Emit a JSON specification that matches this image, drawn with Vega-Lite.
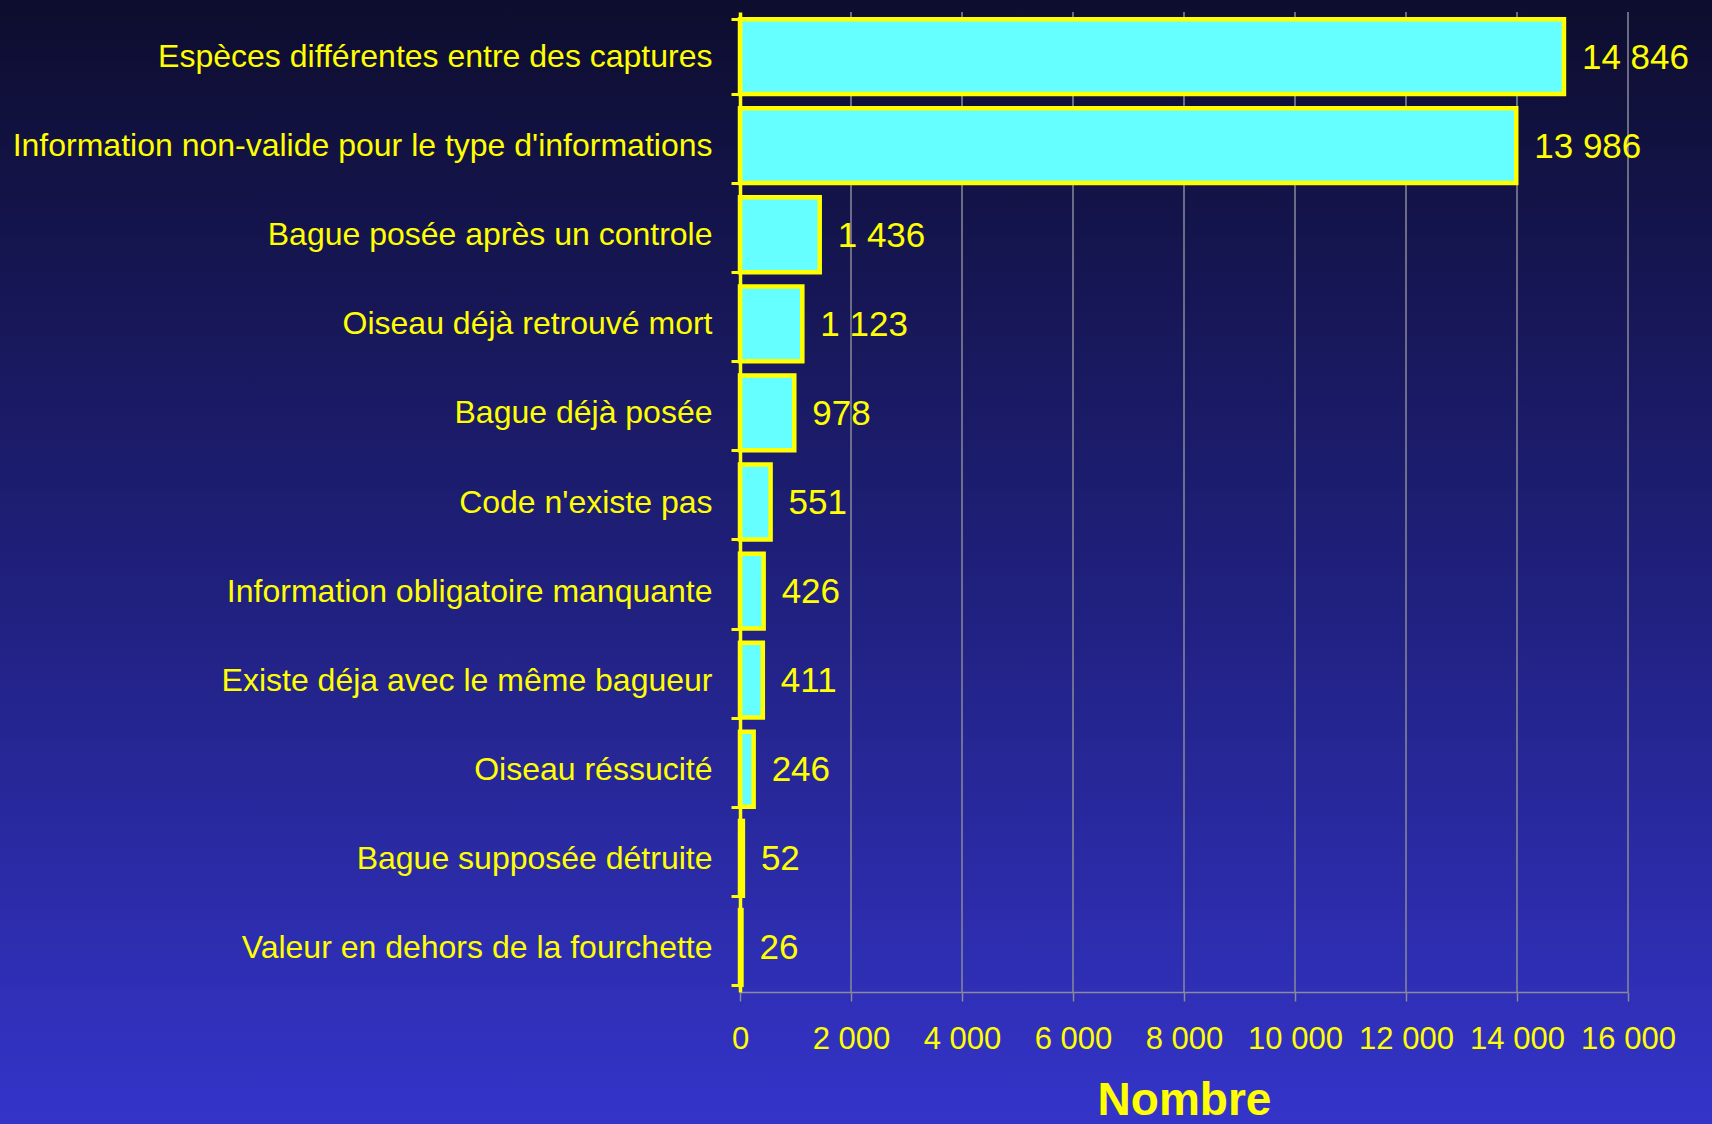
{
  "$schema": "https://vega.github.io/schema/vega-lite/v6.json",
  "width": 888,
  "height": 980,
  "autosize": "none",
  "padding": {"left": 740, "top": 12, "right": 84, "bottom": 132},
  "background": "#1f1f78",
  "config": {
    "view": {"stroke": null},
    "locale": {"number": {"decimal": ",", "thousands": " ", "grouping": [3], "currency": ["", " €"]}},
    "font": "Liberation Sans"
  },
  "datasets": {
    "errors": [
      {"type": "Espèces différentes entre des captures", "n": 14846},
      {"type": "Information non-valide pour le type d'informations", "n": 13986},
      {"type": "Bague posée après un controle", "n": 1436},
      {"type": "Oiseau déjà retrouvé mort", "n": 1123},
      {"type": "Bague déjà posée", "n": 978},
      {"type": "Code n'existe pas", "n": 551},
      {"type": "Information obligatoire manquante", "n": 426},
      {"type": "Existe déja avec le même bagueur", "n": 411},
      {"type": "Oiseau réssucité", "n": 246},
      {"type": "Bague supposée détruite", "n": 52},
      {"type": "Valeur en dehors de la fourchette", "n": 26}
    ],
    "grid": [
      {"g": 2000}, {"g": 4000}, {"g": 6000}, {"g": 8000},
      {"g": 10000}, {"g": 12000}, {"g": 14000}, {"g": 16000}
    ]
  },
  "layer": [
    {
      "data": {"values": [{}]},
      "mark": {
        "type": "rect",
        "fill": {
          "gradient": "linear", "x1": 0, "y1": 0, "x2": 0, "y2": 1,
          "stops": [
            {"offset": 0, "color": "#0d0d2e"},
            {"offset": 0.5, "color": "#1f1f7a"},
            {"offset": 1, "color": "#3434ca"}
          ]
        }
      },
      "encoding": {
        "x": {"datum": -13400, "type": "quantitative", "scale": {"domain": [0, 16000], "nice": false, "zero": false}},
        "x2": {"datum": 17600},
        "y": {"datum": 1.013, "type": "quantitative", "scale": {"domain": [0, 1], "nice": false, "zero": false}, "axis": null},
        "y2": {"datum": -0.136}
      }
    },
    {
      "data": {"name": "grid"},
      "mark": {"type": "rule", "color": "#8a8a9a", "strokeWidth": 1.5},
      "encoding": {
        "x": {"field": "g", "type": "quantitative"}
      }
    },
    {
      "data": {"name": "errors"},
      "layer": [
        {
          "mark": {"type": "bar", "fill": "#66ffff", "stroke": "#ffff00", "strokeWidth": 4.5},
          "encoding": {
            "y": {
              "field": "type", "type": "nominal", "sort": null,
              "scale": {"paddingInner": 0.16, "paddingOuter": 0.08},
              "axis": {
                "title": null, "zindex": 1,
                "domainColor": "#ffff00", "domainWidth": 3.5,
                "tickColor": "#ffff00", "tickWidth": 3, "tickSize": 9, "tickBand": "extent",
                "labelFontSize": 32, "labelColor": "#ffff00", "labelPadding": 19, "labelLimit": 0
              }
            },
            "x": {
              "field": "n", "type": "quantitative",
              "scale": {"domain": [0, 16000], "nice": false},
              "axis": {
                "zindex": 1, "grid": false,
                "values": [0, 2000, 4000, 6000, 8000, 10000, 12000, 14000, 16000],
                "format": ",d",
                "labelFontSize": 31, "labelColor": "#ffff00", "labelPadding": 23,
                "labelFlush": false, "labelOverlap": false,
                "tickColor": "#8a8a9a", "tickSize": 9, "tickWidth": 1.5,
                "domainColor": "#8a8a9a", "domainWidth": 1.5,
                "title": "Nombre", "titleFontSize": 46, "titleFontWeight": "bold",
                "titleColor": "#ffff00", "titlePadding": 24
              }
            }
          }
        },
        {
          "mark": {"type": "text", "align": "left", "baseline": "middle", "dx": 18, "dy": 1, "fontSize": 35, "color": "#ffff00"},
          "encoding": {
            "y": {"field": "type", "type": "nominal", "sort": null},
            "x": {"field": "n", "type": "quantitative"},
            "text": {"field": "n", "type": "quantitative", "format": ",d"}
          }
        }
      ]
    }
  ],
  "resolve": {"scale": {"y": "independent"}, "axis": {"y": "independent"}}
}
